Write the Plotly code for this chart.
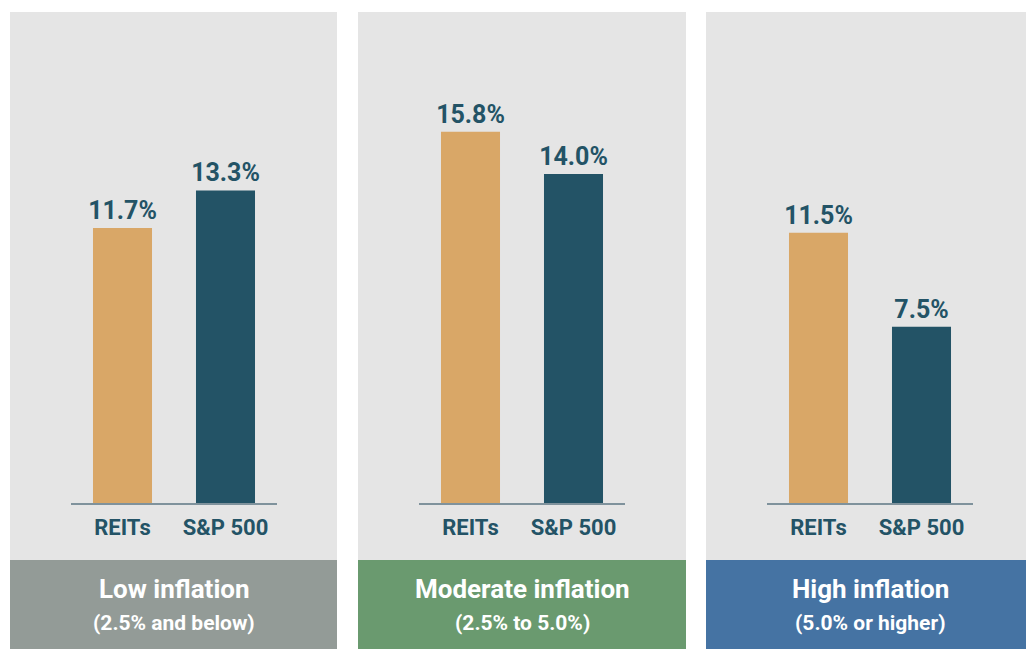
import plotly.graph_objects as go

categories = ["REITs", "S&P 500"]
low_values = [11.7, 13.3]
moderate_values = [15.8, 14.0]
high_values = [11.5, 7.5]
panel_titles = ["Low inflation", "Moderate inflation", "High inflation"]
panel_subtitles = ["(2.5% and below)", "(2.5% to 5.0%)", "(5.0% or higher)"]

W, H = 1026, 649
FONT = "Roboto, DejaVu Sans Condensed, sans-serif"
TXT = "#235366"
bar_colors = ["#d9a767", "#235366"]
footer_colors = ["#939b97", "#6a9a6f", "#4573a3"]
bg = "#e5e5e5"

panels_px = [(10, 337), (358, 686), (706, 1026)]
axes_px = [(71, 277), (419, 625), (767, 973)]
series = [low_values, moderate_values, high_values]

fig = go.Figure()
shapes = []
annotations = []
base_y = 1 - 503 / H
top_y = base_y + 20 * 23.5 / H

for i, (vals, (p0, p1), (a0, a1)) in enumerate(zip(series, panels_px, axes_px)):
    xa = "x" if i == 0 else f"x{i+1}"
    ya = "y" if i == 0 else f"y{i+1}"
    fig.add_trace(go.Bar(
        x=categories, y=vals, xaxis=xa, yaxis=ya,
        marker=dict(color=bar_colors, line=dict(width=0)),
        text=[f"{v:.1f}%" for v in vals], textposition="outside",
        constraintext="none",
        textfont=dict(family=FONT, size=25, color=TXT, weight=700),
        cliponaxis=False, showlegend=False, hoverinfo="skip",
    ))
    key = "" if i == 0 else str(i + 1)
    fig.layout[f"xaxis{key}"] = dict(
        domain=[a0 / W, a1 / W], anchor=ya, showline=True, linecolor="#7f929c",
        linewidth=1.5, showgrid=False, zeroline=False, ticks="",
        ticklabelstandoff=4,
        tickfont=dict(family=FONT, size=22, color=TXT, weight=700), fixedrange=True,
    )
    fig.layout[f"yaxis{key}"] = dict(
        domain=[base_y, top_y], anchor=xa, range=[0, 20], visible=False,
        showgrid=False, zeroline=False, fixedrange=True,
    )
    shapes.append(dict(type="rect", xref="paper", yref="paper", x0=p0 / W, x1=p1 / W,
                       y0=1 - 560 / H, y1=1 - 12 / H, fillcolor=bg, line=dict(width=0),
                       layer="below"))
    shapes.append(dict(type="rect", xref="paper", yref="paper", x0=p0 / W, x1=p1 / W,
                       y0=0, y1=1 - 560 / H, fillcolor=footer_colors[i], line=dict(width=0),
                       layer="below"))
    cx = (a0 + a1) / 2 / W
    annotations.append(dict(xref="paper", yref="paper", x=cx, y=1 - 589 / H,
                            text=panel_titles[i], showarrow=False, xanchor="center",
                            yanchor="middle",
                            font=dict(family=FONT, size=26, color="white", weight=700)))
    annotations.append(dict(xref="paper", yref="paper", x=cx, y=1 - 623 / H,
                            text=panel_subtitles[i], showarrow=False, xanchor="center",
                            yanchor="middle",
                            font=dict(family=FONT, size=21, color="white", weight=700)))

fig.update_layout(
    width=W, height=H, margin=dict(l=0, r=0, t=0, b=0),
    paper_bgcolor="white", plot_bgcolor="rgba(0,0,0,0)",
    bargap=0.427, shapes=shapes, annotations=annotations,
)

fig.write_html("out.html", config={"displayModeBar": False},
               post_script="document.body.style.margin='0px';")
